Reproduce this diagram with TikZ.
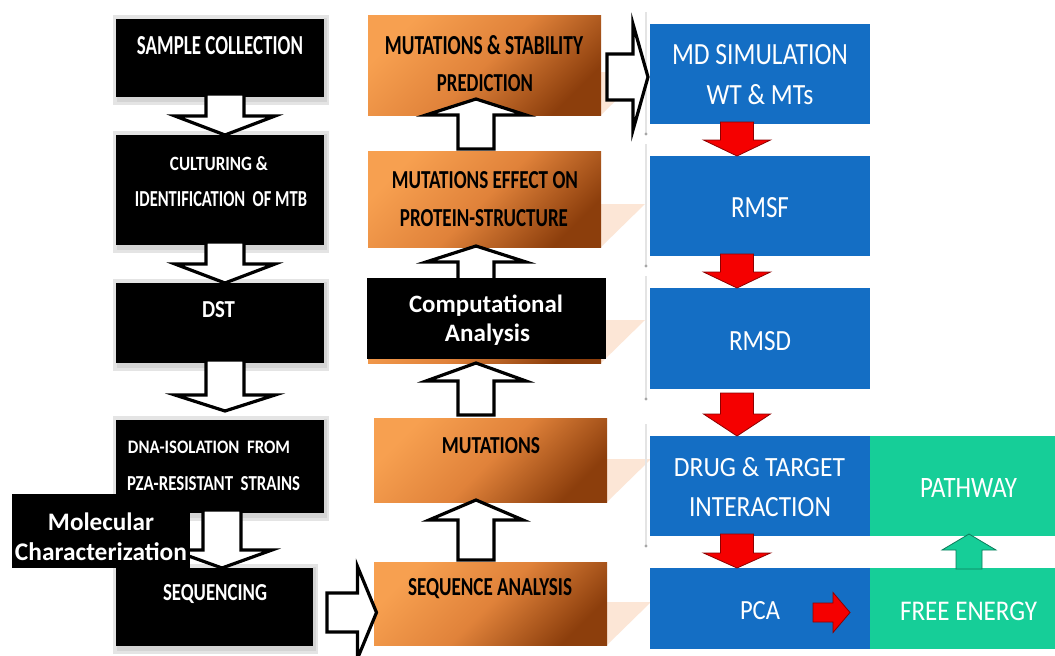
\documentclass[tikz,border=0pt]{standalone}
\usepackage{fontspec}
\setmainfont{Carlito}
\usepackage{graphicx}
\usetikzlibrary{calc}
\pgfdeclarelayer{bg}
\pgfsetlayers{bg,main}

\definecolor{mdblue}{RGB}{20,110,196}
\definecolor{mint}{RGB}{22,206,152}
\definecolor{orlight}{RGB}{247,160,80}
\definecolor{ormid}{RGB}{224,130,58}
\definecolor{ordark}{RGB}{140,62,12}
\definecolor{peach}{RGB}{252,230,214}
\definecolor{frameout}{RGB}{228,228,228}
\definecolor{framein}{RGB}{212,212,212}
\definecolor{redfill}{RGB}{245,0,0}

% text squeezed to a given width and cap height
\newcommand\fitbox[3]{\resizebox{#1pt}{#2pt}{#3}}

% block arrows: style, start point, tip, head length, shaft half width, head half width
\newcommand\blockdown[6]{%
  \draw[#1] let \p1=(#2), \p2=(#3) in
    (\x2-#5,\y1) -- (\x2+#5,\y1) -- (\x2+#5,\y2+#4) -- (\x2+#6,\y2+#4)
    -- (\x2,\y2) -- (\x2-#6,\y2+#4) -- (\x2-#5,\y2+#4) -- cycle;}
\newcommand\blockup[6]{%
  \draw[#1] let \p1=(#2), \p2=(#3) in
    (\x2-#5,\y1) -- (\x2+#5,\y1) -- (\x2+#5,\y2-#4) -- (\x2+#6,\y2-#4)
    -- (\x2,\y2) -- (\x2-#6,\y2-#4) -- (\x2-#5,\y2-#4) -- cycle;}
\newcommand\blockright[6]{%
  \draw[#1] let \p1=(#2), \p2=(#3) in
    (\x1,\y2-#5) -- (\x1,\y2+#5) -- (\x2-#4,\y2+#5) -- (\x2-#4,\y2+#6)
    -- (\x2,\y2) -- (\x2-#4,\y2-#6) -- (\x2-#4,\y2-#5) -- cycle;}

\begin{document}
\begin{tikzpicture}[x=1pt,y=-1pt,
  box/.style={inner sep=0pt, outer sep=0pt, draw=none},
  darkbox/.style={box, fill=black},
  orbox/.style={box, top color=orlight, bottom color=ordark, middle color=ormid, shading angle=45},
  bluebox/.style={box, fill=mdblue},
  greenbox/.style={box, fill=mint},
  tagbox/.style={box, fill=black},
  wcap/.style={inner sep=0pt, outer sep=0pt, text=white, font=\bfseries},
  kcap/.style={inner sep=0pt, outer sep=0pt, text=black, font=\bfseries},
  bcap/.style={inner sep=0pt, outer sep=0pt, text=white},
  tagtext/.style={inner sep=0pt, outer sep=0pt, text=white, font=\bfseries, anchor=base},
  hollow/.style={fill=white, draw=black, line width=3.2pt, line join=miter},
  redarrow/.style={fill=redfill, draw=red!55!black, line width=0.8pt, line join=miter},
  greenarrow/.style={fill=mint, draw=mint!60!black, line width=0.8pt, line join=miter},
]
\useasboundingbox (0,0) rectangle (1055,656);
\begin{pgfonlayer}{bg}
  \fill[white] (0,0) rectangle (1055,656);
\end{pgfonlayer}

% ---------- laboratory column ----------
\node[darkbox, minimum width=208pt, minimum height=78pt]  (sample) at (220,58) {};
\node[darkbox, minimum width=208pt, minimum height=110pt] (cult)   at (220,190) {};
\node[darkbox, minimum width=208pt, minimum height=80pt]  (dst)    at (220,323) {};
\node[darkbox, minimum width=208pt, minimum height=93pt]  (dna)    at (220,466.5) {};
\node[darkbox, minimum width=197pt, minimum height=78pt]  (seq)    at (214.5,607) {};

\begin{pgfonlayer}{bg}
  \foreach \b in {sample,cult,dst,dna,seq}{
    \fill[frameout] ($(\b.north west)+(-3,-4)$) rectangle ($(\b.south east)+(5,8)$);
    \fill[framein] ($(\b.north east)+(0,-1)$) rectangle ($(\b.south east)+(3,5)$);
    \fill[framein] ($(\b.south west)+(1,0)$) rectangle ($(\b.south east)+(3,5)$);
  }
\end{pgfonlayer}

\node[wcap] (sampleT) at (220,46)    {\fitbox{166}{18}{SAMPLE COLLECTION}};
\node[wcap] (cultT1)  at (219,163.7) {\fitbox{98}{14}{CULTURING \&}};
\node[wcap] (cultT2)  at (221,199.2) {\fitbox{172}{15}{IDENTIFICATION\ \ OF MTB}};
\node[wcap] (dstT)    at (218.5,310) {\fitbox{33}{16}{DST}};
\node[wcap] (dnaT1)   at (209,447.5) {\fitbox{162}{12.5}{DNA-ISOLATION\ \ FROM}};
\node[wcap] (dnaT2)   at (213.5,483.7) {\fitbox{173}{14}{PZA-RESISTANT\ \ STRAINS}};
\node[wcap] (seqT)    at (215,594)   {\fitbox{104}{16}{SEQUENCING}};

% ---------- computational column ----------
\node[orbox, minimum width=233pt, minimum height=100pt] (msp) at (484.5,65) {};
\node[orbox, minimum width=233pt, minimum height=96pt]  (mep) at (484.5,199) {};
\node[orbox, minimum width=233pt, minimum height=80pt]  (cab) at (484.5,323) {};
\node[orbox, minimum width=233pt, minimum height=84pt]  (mut) at (490.5,460) {};
\node[orbox, minimum width=233pt, minimum height=83pt]  (sa)  at (490.5,603.5) {};

\begin{pgfonlayer}{bg}
  \foreach \b in {msp,mep,cab,mut,sa}{
    \fill[peach] ($(\b.south east)+(0,-43)$) -- ++(44,0) -- (\b.south east) -- cycle;
  }
\end{pgfonlayer}

\node[kcap] (mspT1) at (484,45)    {\fitbox{198}{19}{MUTATIONS \& STABILITY}};
\node[kcap] (mspT2) at (485,83.5)  {\fitbox{96}{17}{PREDICTION}};
\node[kcap] (mepT1) at (485,180)   {\fitbox{186}{17}{MUTATIONS EFFECT ON}};
\node[kcap] (mepT2) at (484,218.5) {\fitbox{168}{17}{PROTEIN-STRUCTURE}};
\node[kcap] (mutT)  at (491,445.5) {\fitbox{98}{16}{MUTATIONS}};
\node[kcap] (saT)   at (490,588.5) {\fitbox{164}{17}{SEQUENCE ANALYSIS}};

% ---------- simulation column ----------
\node[bluebox, minimum width=220pt, minimum height=100pt] (md)   at (760,74) {};
\node[bluebox, minimum width=220pt, minimum height=100pt] (rmsf) at (760,206) {};
\node[bluebox, minimum width=220pt, minimum height=101pt] (rmsd) at (760,338.5) {};
\node[bluebox, minimum width=220pt, minimum height=100pt] (drug) at (760,486) {};
\node[bluebox, minimum width=220pt, minimum height=81pt]  (pca)  at (760,608.5) {};
\node[greenbox, minimum width=185pt, minimum height=100pt] (path) at (962.5,486) {};
\node[greenbox, minimum width=185pt, minimum height=81pt]  (free) at (962.5,608.5) {};

\begin{pgfonlayer}{bg}
  \foreach \b in {md,rmsf,rmsd,drug}{
    \draw[frameout, line width=2pt] ($(\b.north west)+(-4,-12)$) -- ($(\b.south west)+(-4,10)$);
    \fill[gray!70] ($(\b.south west)+(-4,10)$) circle (1.6);
  }
\end{pgfonlayer}

\node[bcap] (mdT1)   at (760,55)    {\fitbox{176}{20}{MD SIMULATION}};
\node[bcap] (mdT2)   at (760,95)    {\fitbox{107}{20}{WT \& MTs}};
\node[bcap] (rmsfT)  at (760,208)   {\fitbox{58}{20}{RMSF}};
\node[bcap] (rmsdT)  at (760,341)   {\fitbox{62}{19}{RMSD}};
\node[bcap] (drugT1) at (759.5,467.5) {\fitbox{171}{19}{DRUG \& TARGET}};
\node[bcap] (drugT2) at (760,507.5) {\fitbox{142}{19}{INTERACTION}};
\node[bcap] (pathT)  at (968.5,487.5) {\fitbox{97}{19}{PATHWAY}};
\node[bcap] (pcaT)   at (760,611)   {\fitbox{40}{18}{PCA}};
\node[bcap] (freeT)  at (968.5,611) {\fitbox{137}{18.5}{FREE ENERGY}};

% ---------- hollow block arrows ----------
\blockdown{hollow}{$(sample.south)+(5,-3)$}{$(cult.north)+(5,0)$}{19pt}{19pt}{50pt}
\blockdown{hollow}{$(cult.south)+(5,-3)$}{$(dst.north)+(5,0)$}{19pt}{19pt}{50pt}
\blockdown{hollow}{$(dst.south)+(5,-3)$}{$(dna.north)+(5,-9)$}{16pt}{19pt}{50pt}
\blockdown{hollow}{$(dna.south)+(2,-3)$}{$(seq.north)+(7.5,0)$}{18pt}{19pt}{50pt}

\blockup{hollow}{$(mep.north)+(-8.5,-2)$}{$(msp.south)+(-8.5,-16)$}{16pt}{18pt}{50pt}
\blockup{hollow}{$(cab.north)+(-8.5,0)$}{$(mep.south)+(-8.5,-1)$}{16pt}{18pt}{50pt}
\blockup{hollow}{$(mut.north)+(-14.5,-3)$}{$(cab.south)+(-8.5,0)$}{18pt}{18pt}{50pt}
\blockup{hollow}{$(sa.north)+(-14.5,-2)$}{$(mut.south)+(-14.5,-2)$}{20pt}{18pt}{47pt}

\blockright{hollow}{$(seq.east)+(14,0)$}{$(sa.west)+(2.5,9)$}{19pt}{19.5pt}{46pt}
\blockright{hollow}{$(msp.east)+(6,0)$}{$(md.west)+(-2,3)$}{15pt}{23pt}{53pt}

% ---------- coloured block arrows ----------
\blockdown{redarrow}{$(md.south)+(-23,-2)$}{$(rmsf.north)+(-23,0)$}{16pt}{16.5pt}{33.5pt}
\blockdown{redarrow}{$(rmsf.south)+(-23,-2)$}{$(rmsd.north)+(-23,0)$}{16pt}{16.5pt}{33.5pt}
\blockdown{redarrow}{$(rmsd.south)+(-23,4)$}{$(drug.north)+(-23,0)$}{22pt}{16.5pt}{33.5pt}
\blockdown{redarrow}{$(drug.south)+(-23,-2)$}{$(pca.north)+(-23,0)$}{15pt}{16.5pt}{33.5pt}
\blockright{redarrow}{$(pca.center)+(53,4)$}{$(free.west)+(-20,4)$}{17pt}{9.5pt}{20pt}
\blockup{greenarrow}{$(free.north)+(6.5,1)$}{$(path.south)+(6.5,-2)$}{16pt}{13pt}{27pt}

% ---------- section tags ----------
\node[tagbox, minimum width=239pt, minimum height=81pt] (comp) at (486.5,318.5) {};
\node[tagtext] (compT1) at (486,312.7)   {\resizebox{154pt}{!}{Computational}};
\node[tagtext] (compT2) at (487.5,341.7) {\resizebox{85pt}{!}{Analysis}};

\node[tagbox, minimum width=178pt, minimum height=74pt] (mol) at (101,531) {};
\node[tagtext] (molT1) at (101,530) {\resizebox{106pt}{!}{Molecular}};
\node[tagtext] (molT2) at (101,560) {\resizebox{172pt}{!}{Characterization}};
\end{tikzpicture}
\end{document}
